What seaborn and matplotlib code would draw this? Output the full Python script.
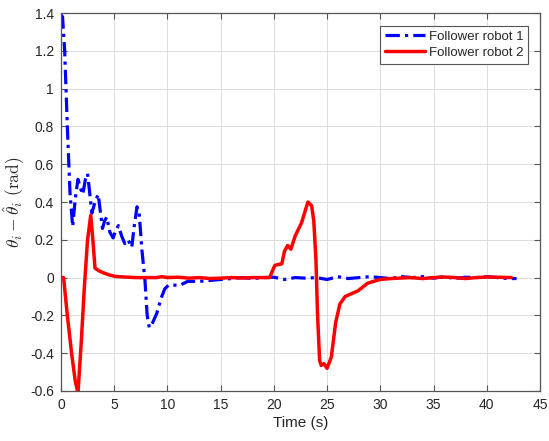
import matplotlib
matplotlib.use("Agg")
import matplotlib.pyplot as plt
import seaborn as sns
import pandas as pd
from matplotlib.ticker import FuncFormatter

# Heading error of follower robot 1 (time in s, error in rad)
t_robot1 = [0.0, 0.15, 0.35, 0.6, 0.85, 1.1, 1.35, 1.6, 1.85, 2.05, 2.3, 2.5, 2.7, 2.9,
            3.2, 3.5, 3.7, 3.9, 4.1, 4.3, 4.6, 4.9, 5.15, 5.4, 5.7, 6.0, 6.3, 6.65,
            6.9, 7.15, 7.35, 7.6, 7.9, 8.1, 8.3, 8.6, 9.0, 9.4, 9.75, 10.1, 10.5,
            11.2, 11.9, 13, 14, 15, 16, 17, 18, 19, 20, 21, 22, 23, 24, 25, 26, 27,
            28, 29, 30, 31, 32, 33, 34, 35, 36, 37, 38, 39, 40, 41, 42, 42.8]
e_robot1 = [1.39, 1.38, 1.2, 0.8, 0.45, 0.27, 0.42, 0.52, 0.47, 0.44, 0.52, 0.55, 0.45, 0.34,
            0.40, 0.44, 0.35, 0.26, 0.30, 0.32, 0.24, 0.21, 0.25, 0.275, 0.22, 0.18, 0.2, 0.16,
            0.28, 0.375, 0.34, 0.15, -0.02, -0.2, -0.265, -0.24, -0.19, -0.11, -0.06, -0.04, -0.04,
            -0.04, -0.02, -0.02, -0.015, -0.01, -0.005, 0.0, -0.005, 0.0, 0.002, -0.01, 0.0, -0.003,
            0.0, -0.01, 0.005, -0.005, 0.0, 0.005, 0.0, -0.005, 0.005, 0.0, 0.005, -0.003, 0.005,
            -0.005, 0.002, 0.0, 0.005, 0.0, -0.005, -0.005]

# Heading error of follower robot 2
t_robot2 = [0.0, 0.25, 0.6, 1.0, 1.35, 1.6, 1.9, 2.2, 2.5, 2.8, 3.0, 3.2, 3.6, 4.0, 4.5, 5.1,
            6, 7, 8, 9, 9.5, 10, 11, 12, 13, 14, 15, 16, 17, 18, 19, 19.6, 19.9, 20.1,
            20.5, 20.75, 21.0, 21.3, 21.6, 22.0, 22.6, 23.2, 23.55, 23.75, 23.95, 24.1,
            24.3, 24.45, 24.7, 25.0, 25.4, 25.8, 26.2, 26.7, 27.3, 27.9, 28.8, 29.95,
            31, 32.8, 34, 35, 36, 37, 38, 39, 40, 41, 42.3]
e_robot2 = [0.0, 0.0, -0.2, -0.4, -0.55, -0.61, -0.35, -0.05, 0.2, 0.33, 0.2, 0.05, 0.035,
            0.025, 0.015, 0.006, 0.003, 0.0, 0.0, 0.0, 0.005, 0.0, 0.002, -0.003, 0.0, -0.005,
            -0.003, 0.0, -0.002, 0.0, 0.0, 0.0, 0.04, 0.065, 0.07, 0.073, 0.14, 0.17, 0.15,
            0.22, 0.29, 0.40, 0.38, 0.3, 0.1, -0.19, -0.44, -0.465, -0.455, -0.48, -0.42,
            -0.24, -0.14, -0.10, -0.085, -0.07, -0.03, -0.01, -0.005, 0.0, -0.005, 0.0,
            0.003, 0.0, -0.005, 0.0, 0.003, 0.002, 0.0]

series_names = ["Follower robot 1", "Follower robot 2"]
x_ticks = [0, 5, 10, 15, 20, 25, 30, 35, 40, 45]
y_ticks = [-0.6, -0.4, -0.2, 0, 0.2, 0.4, 0.6, 0.8, 1, 1.2, 1.4]

sns.set_theme(style="whitegrid")
plt.rcParams["font.family"] = ["Liberation Sans", "DejaVu Sans"]
plt.rcParams["mathtext.fontset"] = "cm"

fig = plt.figure(figsize=(5.49, 4.41), dpi=100)
ax = fig.add_axes([0.111, 0.1134, 0.8726, 0.8571])
ax.set_facecolor("white")

df1 = pd.DataFrame({"t": t_robot1, "e": e_robot1})
df2 = pd.DataFrame({"t": t_robot2, "e": e_robot2})

sns.lineplot(data=df1, x="t", y="e", ax=ax, color="#0000ff", lw=2.3,
             linestyle=(0, (4.5, 1.6, 1.0, 1.6)), label=series_names[0], sort=False)
sns.lineplot(data=df2, x="t", y="e", ax=ax, color="#ff0000", lw=2.5,
             label=series_names[1], sort=False)

ax.set_xlim(0, 45)
ax.set_ylim(-0.6, 1.4)
ax.set_xticks(x_ticks)
ax.set_yticks(y_ticks)
ax.yaxis.set_major_formatter(FuncFormatter(lambda v, p: f"{v:g}".replace("\u2212", "-")))

ax.grid(True, color="#dcdcdc", linewidth=0.7)
for s in ax.spines.values():
    s.set_visible(True)
    s.set_color("#555555")
    s.set_linewidth(0.9)
ax.tick_params(direction="in", length=4, width=0.8, color="#555555",
               labelsize=10, labelcolor="#262626", top=True, right=True,
               bottom=True, left=True, pad=5)

ax.set_xlabel("Time (s)", fontsize=11, color="#262626", labelpad=3)
ax.set_ylabel(r"$\theta_i - \hat{\theta}_i\ (\mathrm{rad})$", fontsize=12.5,
              color="#262626", labelpad=2)

leg = ax.legend(loc="upper right", bbox_to_anchor=(0.98, 0.973), fancybox=False,
                framealpha=1, edgecolor="#555555", fontsize=9.5, handlelength=3.0,
                borderpad=0.35, labelspacing=0.3, handletextpad=0.3, borderaxespad=0.2)
leg.get_frame().set_linewidth(0.8)
for txt in leg.get_texts():
    txt.set_color("#262626")

fig.savefig("out.png", dpi=100)
